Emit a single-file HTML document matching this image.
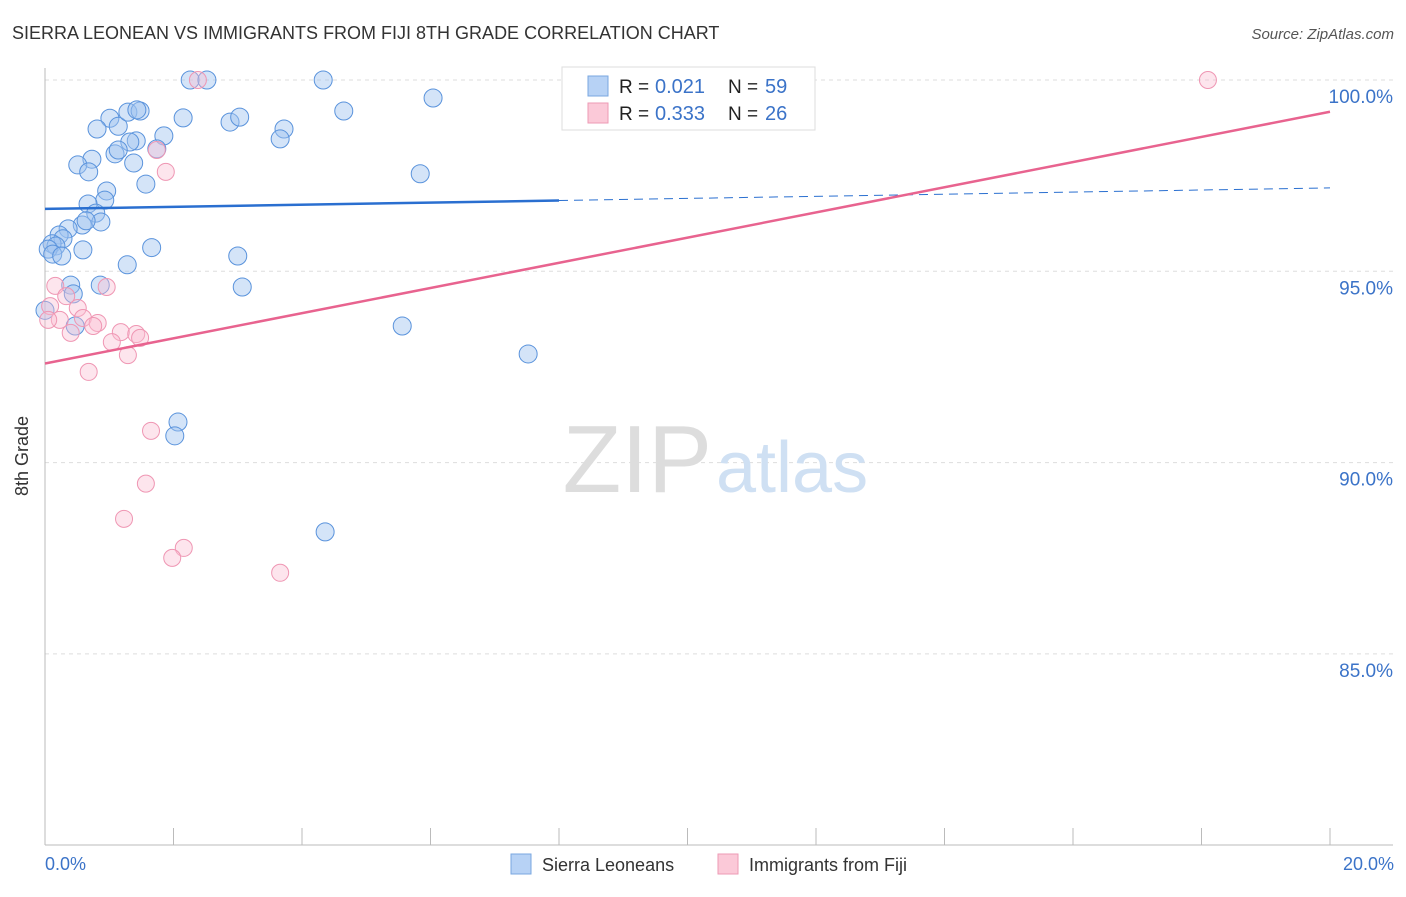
<!DOCTYPE html>
<html><head><meta charset="utf-8"><style>
body{margin:0;background:#fff;font-family:"Liberation Sans",sans-serif;}
svg text{font-family:"Liberation Sans",sans-serif;}
</style></head><body>
<svg id="chart" width="1406" height="892" xmlns="http://www.w3.org/2000/svg">
<text x="12" y="39" font-size="18" fill="#333">SIERRA LEONEAN VS IMMIGRANTS FROM FIJI 8TH GRADE CORRELATION CHART</text>
<text x="1394" y="39" font-size="15" fill="#555" font-style="italic" text-anchor="end">Source: ZipAtlas.com</text>
<g id="grid"></g>
<text x="712" y="492" font-size="96" fill="#ddd" text-anchor="end" font-family="Liberation Serif">ZIP</text>
<text x="716" y="492" font-size="72" fill="#cfe0f3">atlas</text>
<line x1="45" y1="68" x2="45" y2="845" stroke="#bbb"/>
<line x1="45" y1="845" x2="1393" y2="845" stroke="#bbb"/>
<g id="ticks"></g>
<text x="28" y="456" font-size="18" fill="#333" text-anchor="middle" transform="rotate(-90 28 456)">8th Grade</text>
<text x="45" y="870" font-size="18" fill="#3b73c8">0.0%</text>
<text x="1394" y="870" font-size="18" fill="#3b73c8" text-anchor="end">20.0%</text>
<g id="pts"></g>
<g id="lines"></g>
<g>
<rect x="562" y="67" width="253" height="63" fill="#fff" stroke="#ddd"/>
<rect x="588" y="76" width="20" height="20" fill="#b7d2f5" stroke="#7aa7e0"/>
<rect x="588" y="103" width="20" height="20" fill="#fbc9d8" stroke="#ee9ab5"/>
<text x="619" y="93" font-size="19" fill="#222">R =</text>
<text x="655" y="93" font-size="20" fill="#3b73c8">0.021</text>
<text x="728" y="93" font-size="19" fill="#222">N =</text>
<text x="765" y="93" font-size="20" fill="#3b73c8">59</text>
<text x="619" y="120" font-size="19" fill="#222">R =</text>
<text x="655" y="120" font-size="20" fill="#3b73c8">0.333</text>
<text x="728" y="120" font-size="19" fill="#222">N =</text>
<text x="765" y="120" font-size="20" fill="#3b73c8">26</text>
</g>
<g>
<rect x="511" y="854" width="20" height="20" fill="#b7d2f5" stroke="#7aa7e0"/>
<text x="542" y="871" font-size="18" fill="#333">Sierra Leoneans</text>
<rect x="718" y="854" width="20" height="20" fill="#fbc9d8" stroke="#ee9ab5"/>
<text x="749" y="871" font-size="18" fill="#333">Immigrants from Fiji</text>
</g>
</svg>
<script>
const yTicks=[100,95,90,85];
const yTickLabels=["100.0%","95.0%","90.0%","85.0%"];
const blueX=[2.26,2.52,4.33,4.65,6.04,2.15,2.88,3.03,3.72,3.66,1.01,0.81,1.14,1.29,1.48,1.43,1.85,1.42,1.32,1.09,1.14,1.74,0.73,0.51,0.68,1.38,1.57,0.96,0.93,0.67,0.79,0.87,0.58,0.64,0.36,0.22,0.28,0.11,0.17,0.05,0.12,0.26,0.59,1.66,1.28,3.00,0.86,0.40,0.44,3.07,5.84,0.47,5.56,7.52,2.07,2.02,4.36,0.0];
const blueY=[100,100,100,99.19,99.53,99.01,98.9,99.03,98.72,98.46,99.0,98.72,98.79,99.16,99.19,99.22,98.54,98.41,98.38,98.07,98.17,98.2,97.93,97.78,97.6,97.83,97.28,97.1,96.86,96.76,96.52,96.29,96.21,96.32,96.11,95.95,95.85,95.72,95.66,95.58,95.45,95.4,95.56,95.62,95.17,95.4,94.64,94.64,94.41,94.59,97.55,93.57,93.57,92.84,91.06,90.7,88.19,93.98];
const pinkX=[2.38,18.1,1.74,1.88,0.16,0.08,0.96,0.33,0.51,0.23,0.05,0.59,0.82,0.75,0.40,1.18,1.04,1.42,1.48,1.29,0.68,1.65,1.57,1.23,2.16,1.98,3.66];
const pinkY=[100,100,98.17,97.6,94.62,94.09,94.59,94.35,94.04,93.73,93.73,93.78,93.65,93.57,93.39,93.41,93.15,93.36,93.26,92.81,92.37,90.83,89.45,88.53,87.77,87.51,87.12];
const trendBlue=[96.63,97.18];
const trendPink=[92.59,99.17];
const xMax=20;
const sx=v=>45+v/xMax*1285;
const sy=v=>80+(100-v)/5*191.3;
const NS="http://www.w3.org/2000/svg";
function mk(tag,attrs,parent){const e=document.createElementNS(NS,tag);for(const k in attrs)e.setAttribute(k,attrs[k]);document.getElementById(parent).appendChild(e);return e;}
yTicks.forEach((t,i)=>{
 const l=mk('line',{x1:45,x2:1393,y1:sy(t),y2:sy(t),stroke:'#ddd','stroke-dasharray':'4,4'},'grid');
 
 
 const tx=mk('text',{x:1393,y:sy(t)+23,'font-size':19,fill:'#3b73c8','text-anchor':'end'},'grid');
 tx.textContent=yTickLabels[i];
 
 
});
for(let i=0;i<=10;i++){
 const x=sx(i*2);
 const l=mk('line',{x1:x,x2:x,y1:828,y2:845,stroke:'#bbb'},'ticks');
 
 
}
blueX.forEach((v,i)=>{
 const c=mk('circle',{cx:sx(v),cy:sy(blueY[i]),r:9,fill:'rgba(160,195,240,0.45)',stroke:'#5a93dc','stroke-width':1},'pts');
 
 
});
pinkX.forEach((v,i)=>{
 const c=mk('circle',{cx:sx(v),cy:sy(pinkY[i]),r:8.5,fill:'rgba(250,190,210,0.4)',stroke:'#ef96b3','stroke-width':1},'pts');
 
 
});
const bAt=x=>trendBlue[0]+(trendBlue[1]-trendBlue[0])*x/xMax;
let l1=mk('line',{x1:sx(0),y1:sy(bAt(0)),x2:sx(8),y2:sy(bAt(8)),stroke:'#2a6fd0','stroke-width':2.5},'lines');


let l2=mk('line',{x1:sx(8),y1:sy(bAt(8)),x2:sx(20),y2:sy(bAt(20)),stroke:'#2a6fd0','stroke-width':1,'stroke-dasharray':'9,6'},'lines');


let l3=mk('line',{x1:sx(0),y1:sy(trendPink[0]),x2:sx(20),y2:sy(trendPink[1]),stroke:'#e8638f','stroke-width':2.5},'lines');


</script>
</body></html>
